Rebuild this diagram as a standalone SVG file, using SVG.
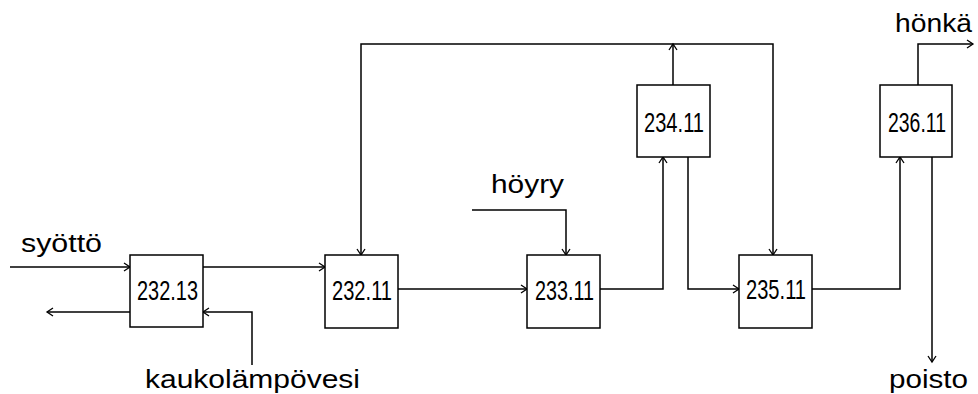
<svg xmlns="http://www.w3.org/2000/svg" width="978" height="394" viewBox="0 0 978 394">
<style>
.box{fill:#fff;stroke:#000;stroke-width:1.5}
.num{font-family:"Liberation Sans",Arial,sans-serif;font-size:27px;fill:#000}
.lbl{font-family:"Liberation Sans",Arial,sans-serif;font-size:26px;fill:#000}
.ln{fill:none;stroke:#000;stroke-width:1.5;marker-end:url(#ah)}
.pl{fill:none;stroke:#000;stroke-width:1.5}
</style>
<defs>
<marker id="ah" markerUnits="userSpaceOnUse" markerWidth="12" markerHeight="12" refX="7" refY="5" orient="auto">
<path d="M1,1 L7,5 L1,9" fill="none" stroke="#000" stroke-width="1.3"/>
</marker>
</defs>
<rect width="978" height="394" fill="#fff"/>
<g id="connectors">
<path class="ln" d="M10,267 H130"/>
<path class="ln" d="M130,312 H47"/>
<path class="ln" d="M252,365 V312 H203"/>
<path class="ln" d="M203,267 H325"/>
<path class="ln" d="M673,44 H361 V255"/>
<path class="ln" d="M673,44 H773 V255"/>
<path class="ln" d="M673,85 V44"/>
<path class="ln" d="M398,289 H527"/>
<path class="ln" d="M472,210 H566 V255"/>
<path class="ln" d="M600,289 H663 V157"/>
<path class="ln" d="M688,157 V289 H739"/>
<path class="ln" d="M812,289 H900 V157"/>
<path class="ln" d="M918,85 V44 H973"/>
<path class="ln" d="M932,157 V362"/>
</g>
<g id="n23213"><rect class="box" x="130" y="255" width="73" height="72"/><text class="num" x="137" y="300" textLength="61" lengthAdjust="spacingAndGlyphs">232.13</text></g>
<g id="n23211"><rect class="box" x="325" y="255" width="73" height="73"/><text class="num" x="332" y="300" textLength="60" lengthAdjust="spacingAndGlyphs">232.11</text></g>
<g id="n23311"><rect class="box" x="527" y="255" width="73" height="73"/><text class="num" x="535" y="300" textLength="59" lengthAdjust="spacingAndGlyphs">233.11</text></g>
<g id="n23411"><rect class="box" x="637" y="85" width="73" height="72"/><text class="num" x="644" y="132" textLength="60" lengthAdjust="spacingAndGlyphs">234.11</text></g>
<g id="n23511"><rect class="box" x="739" y="255" width="73" height="73"/><text class="num" x="746" y="299" textLength="60" lengthAdjust="spacingAndGlyphs">235.11</text></g>
<g id="n23611"><rect class="box" x="880" y="85" width="72" height="72"/><text class="num" x="888" y="132" textLength="58" lengthAdjust="spacingAndGlyphs">236.11</text></g>
<g id="labels">
<text class="lbl" x="21" y="252" textLength="81" lengthAdjust="spacingAndGlyphs">syöttö</text>
<text class="lbl" x="145" y="388" textLength="215" lengthAdjust="spacingAndGlyphs">kaukolämpövesi</text>
<text class="lbl" x="491" y="193" textLength="73" lengthAdjust="spacingAndGlyphs">höyry</text>
<text class="lbl" x="895" y="32" textLength="77" lengthAdjust="spacingAndGlyphs">hönkä</text>
<text class="lbl" x="889" y="388" textLength="79" lengthAdjust="spacingAndGlyphs">poisto</text>
</g>
</svg>
